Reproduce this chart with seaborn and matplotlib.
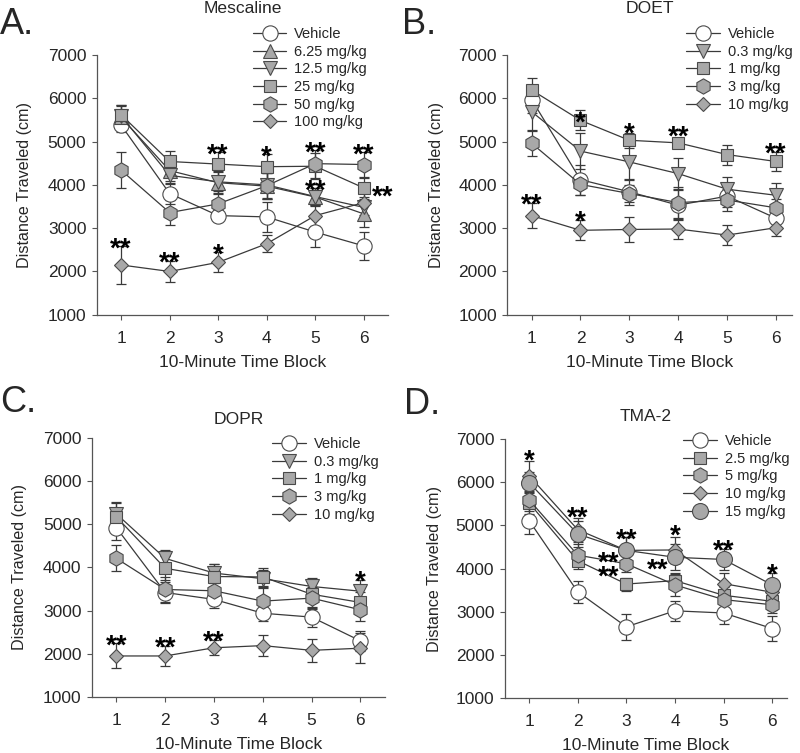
import matplotlib
matplotlib.use("Agg")
import matplotlib.pyplot as plt
import seaborn as sns

# ------------------------------
# Data (means +/- SEM)
# ------------------------------
blocks = [1, 2, 3, 4, 5, 6]

mesc_labels = ["Vehicle", "6.25 mg/kg", "12.5 mg/kg", "25 mg/kg", "50 mg/kg", "100 mg/kg"]
mesc_means = [
    [5380, 3800, 3290, 3260, 2910, 2590],
    [5560, 4330, 4050, 3970, 3720, 3330],
    [5590, 4220, 4070, 4000, 3730, 3480],
    [5620, 4540, 4480, 4420, 4430, 3930],
    [4340, 3360, 3560, 3980, 4490, 4470],
    [2150, 2000, 2210, 2640, 3290, 3590],
]
mesc_sems = [
    [150, 250, 120, 350, 340, 330],
    [250, 250, 250, 300, 200, 300],
    [250, 200, 250, 300, 200, 250],
    [230, 250, 280, 300, 300, 250],
    [420, 290, 300, 300, 320, 300],
    [440, 250, 230, 200, 250, 280],
]
mesc_stars = [(1, 2720, "**"), (2, 2380, "**"), (3, 2570, "*"), (3, 4880, "**"),
              (4, 4850, "*"), (5, 4940, "**"), (5, 4050, "**"), (6, 4880, "**"),
              (6.39, 3920, "**")]

doet_labels = ["Vehicle", "0.3 mg/kg", "1 mg/kg", "3 mg/kg", "10 mg/kg"]
doet_means = [
    [5970, 4120, 3840, 3530, 3740, 3230],
    [5690, 4780, 4530, 4260, 3900, 3760],
    [6190, 5490, 5030, 4970, 4700, 4540],
    [4960, 4010, 3800, 3590, 3650, 3470],
    [3290, 2950, 2970, 2980, 2840, 3010],
]
doet_sems = [
    [300, 350, 300, 350, 250, 80],
    [450, 420, 420, 350, 280, 280],
    [270, 230, 170, 120, 230, 220],
    [300, 250, 200, 350, 250, 200],
    [280, 230, 280, 230, 230, 200],
]
doet_stars = [(1, 3730, "**"), (2, 5630, "*"), (2, 3330, "*"), (3, 5370, "*"),
              (4, 5290, "**"), (6, 4920, "**")]

dopr_labels = ["Vehicle", "0.3 mg/kg", "1 mg/kg", "3 mg/kg", "10 mg/kg"]
dopr_means = [
    [4920, 3420, 3260, 2940, 2850, 2300],
    [5240, 4210, 3870, 3740, 3560, 3450],
    [5170, 3980, 3790, 3780, 3380, 3190],
    [4210, 3490, 3460, 3220, 3290, 3020],
    [1950, 1950, 2140, 2190, 2080, 2130],
]
dopr_sems = [
    [280, 250, 200, 180, 220, 230],
    [280, 200, 220, 200, 200, 250],
    [330, 280, 300, 200, 300, 250],
    [300, 300, 250, 300, 250, 250],
    [290, 240, 170, 240, 260, 350],
]
dopr_stars = [(1, 2380, "**"), (2, 2340, "**"), (3, 2460, "**"), (6, 3850, "*")]

tma_labels = ["Vehicle", "2.5 mg/kg", "5 mg/kg", "10 mg/kg", "15 mg/kg"]
tma_means = [
    [5110, 3460, 2650, 3020, 2970, 2610],
    [5520, 4180, 3640, 3720, 3380, 3240],
    [5590, 4310, 4110, 3620, 3280, 3160],
    [6150, 4900, 4420, 4430, 3650, 3450],
    [5990, 4800, 4420, 4260, 4210, 3620],
]
tma_sems = [
    [300, 260, 300, 230, 250, 280],
    [250, 200, 150, 180, 200, 200],
    [250, 250, 200, 250, 200, 200],
    [350, 280, 300, 300, 250, 250],
    [250, 300, 300, 300, 250, 270],
]
tma_stars = [(1, 6690, "*"), (2, 5360, "**"), (3, 4860, "**"), (2.63, 4320, "**"),
             (2.63, 4000, "**"), (4, 4940, "*"), (3.65, 4160, "**"), (5, 4610, "**"),
             (6, 4050, "*")]

# ------------------------------
# Styles
# ------------------------------
GRAY = "#a8a8a8"
EDGE = "#4a4a4a"
LINE = "#3a3a3a"
WHITE = "white"

mesc_markers = [("o", WHITE, 11), ("^", GRAY, 10), ("v", GRAY, 10), ("s", GRAY, 9),
                ("h", GRAY, 11), ("D", GRAY, 7.5)]
doet_markers = [("o", WHITE, 11), ("v", GRAY, 10), ("s", GRAY, 9), ("h", GRAY, 11),
                ("D", GRAY, 7.5)]
tma_markers = [("o", WHITE, 11), ("s", GRAY, 9), ("h", GRAY, 11), ("D", GRAY, 7.5),
               ("o", GRAY, 11.5)]

sns.set_style("ticks")
plt.rcParams["font.family"] = ["Liberation Sans", "DejaVu Sans"]

fig = plt.figure(figsize=(8, 7.53), dpi=100)

STAR_FS = 20


def draw_panel(rect, xmax, labels, means, sems, markers, stars,
               title, title_y, letter, letter_xy, legend_xy):
    ax = fig.add_axes(rect)
    for lab, m, s, (mk, fc, ms) in zip(labels, means, sems, markers):
        ax.errorbar(blocks, m, yerr=s, fmt="none", ecolor=LINE, elinewidth=0.9,
                    capsize=3.5, capthick=0.9, zorder=1)
        sns.lineplot(x=blocks, y=m, ax=ax, color=LINE, linewidth=0.9,
                     marker=mk, markersize=ms, markerfacecolor=fc,
                     markeredgecolor=EDGE, markeredgewidth=0.8,
                     label=lab, legend=False, zorder=2)
    for x, y, txt in stars:
        ax.annotate(txt, (x, y), xytext=(0, -0.58 * STAR_FS), textcoords="offset points",
                    ha="center", va="baseline", fontsize=STAR_FS, fontweight="bold",
                    color="black")

    ax.set_xlim(0.5, xmax)
    ax.set_ylim(1000, 7000)
    ax.set_xticks(blocks)
    ax.set_yticks(range(1000, 7001, 1000))
    ax.tick_params(axis="both", labelsize=12.5, length=3.5, width=0.8, direction="out",
                   color="#555555")
    ax.tick_params(axis="x", pad=8)
    ax.tick_params(axis="y", pad=4)
    sns.despine(ax=ax)
    for sp in ("left", "bottom"):
        ax.spines[sp].set_color("#555555")
        ax.spines[sp].set_linewidth(0.9)

    ax.set_xlabel("10-Minute Time Block", fontsize=12.5)
    ax.set_ylabel("Distance Traveled (cm)", fontsize=11.6)
    ax.xaxis.set_label_coords(0.5, -0.155)
    ax.yaxis.set_label_coords(-0.222, 0.5)

    ax.text(0.5, title_y, title, transform=ax.transAxes, ha="center", va="center",
            fontsize=12.6)
    fig.text(letter_xy[0], letter_xy[1], letter, ha="left", va="center", fontsize=26)

    ax.legend(loc="upper left", bbox_to_anchor=legend_xy, bbox_transform=fig.transFigure,
              frameon=False, fontsize=10.5, handlelength=2.3, handletextpad=0.55,
              labelspacing=0.25, borderpad=0, borderaxespad=0)
    return ax


draw_panel([0.121, 0.582, 0.364, 0.345], 6.5, mesc_labels, mesc_means, mesc_sems,
           mesc_markers, mesc_stars, "Mescaline", 1.18, "A.", (0.0, 1 - 25 / 753),
           (0.316, 0.964))
draw_panel([0.634, 0.582, 0.356, 0.345], 6.33, doet_labels, doet_means, doet_sems,
           doet_markers, doet_stars, "DOET", 1.18, "B.", (0.502, 1 - 25 / 753),
           (0.8575, 0.964))
draw_panel([0.115, 0.0744, 0.366, 0.344], 6.5, dopr_labels, dopr_means, dopr_sems,
           doet_markers, dopr_stars, "DOPR", 1.07, "C.", (0.0, 1 - 403 / 753),
           (0.34, 0.4196))
draw_panel([0.631, 0.073, 0.3525, 0.344], 6.3, tma_labels, tma_means, tma_sems,
           tma_markers, tma_stars, "TMA-2", 1.085, "D.", (0.505, 1 - 404 / 753),
           (0.854, 0.4236))

fig.savefig("out.png", dpi=100)
